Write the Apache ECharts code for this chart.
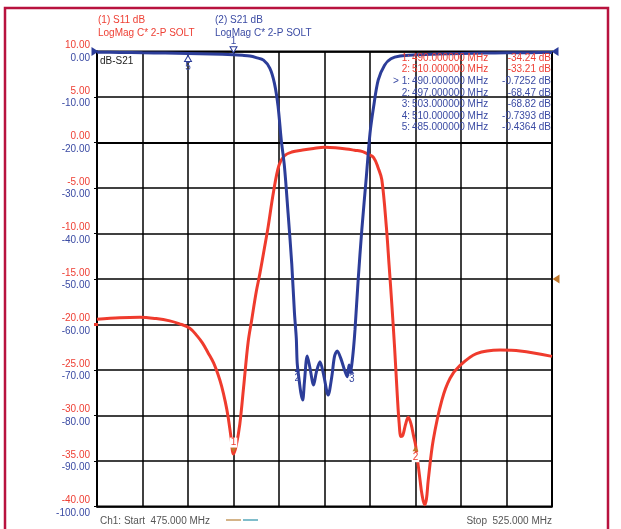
<!DOCTYPE html>
<html><head><meta charset="utf-8">
<script src="https://cdn.jsdelivr.net/npm/echarts@6/dist/echarts.min.js"></script>
<style>html,body{margin:0;padding:0;background:#fff}#c{width:621px;height:529px}</style>
</head><body><div id="c"></div>
<script>
// ---- data ----
const freqS11 = [475, 477.5, 479.7, 481.5, 483, 484, 485.2, 486, 486.6, 487.2, 487.8, 488.3, 488.7, 489.1, 489.4, 489.7, 490, 490.3, 490.7, 491.1, 491.6, 492, 492.5, 492.9, 493.4, 493.8, 494.4, 495, 495.6, 496.4, 497.6, 498.8, 500, 501.2, 502.4, 503.3, 504.2, 504.8, 505.4, 505.9, 506.3, 506.8, 507.1, 507.4, 507.7, 508, 508.2, 508.4, 508.6, 508.9, 509.2, 509.5, 509.8, 510, 510.5, 510.7, 511, 511.2, 511.4, 511.95, 512.9, 513.8, 514.9, 516.7, 519.3, 521.5, 525];
const s11 = [-19.43, -19.25, -19.2, -19.35, -19.6, -19.9, -20.4, -21.25, -22.05, -23.1, -24.2, -25.5, -26.8, -28.5, -30.1, -32.2, -34.24, -33.3, -30.9, -27.0, -22.0, -19.5, -16.4, -14.4, -11.6, -9.3, -5.4, -2.5, -1.45, -1.05, -0.82, -0.65, -0.53, -0.58, -0.71, -0.85, -1.0, -1.3, -1.65, -2.8, -4.1, -9.3, -13.5, -17.8, -22.5, -27.8, -30.8, -32.3, -32.2, -31.0, -30.2, -30.9, -32.3, -33.21, -37.1, -38.6, -39.8, -39.2, -37.1, -32.7, -28.3, -25.9, -24.5, -23.2, -22.8, -22.9, -23.5];

const freqS21 = [475, 477.5, 480, 482.5, 485, 487.5, 490, 491, 491.8, 492.5, 493.3, 494, 494.5, 494.9, 495.25, 495.6, 496, 496.4, 496.7, 496.9, 497, 497.2, 497.4, 497.6, 497.8, 498.1, 498.4, 498.8, 499.1, 499.5, 499.9, 500.4, 500.8, 501.1, 501.4, 501.8, 502.2, 502.5, 502.7, 502.85, 503, 503.2, 503.35, 503.7, 504.1, 504.6, 505, 505.4, 505.9, 506.6, 507.3, 508.3, 510, 512.5, 515, 517.5, 520, 522.5, 525];
const s21 = [-0.15, -0.2, -0.28, -0.35, -0.4364, -0.55, -0.7252, -0.85, -1.0, -1.35, -1.9, -3.7, -7.0, -12.1, -19.5, -25.3, -35.6, -46.6, -57.5, -63, -68.47, -72, -75, -76.6, -72.5, -66.9, -69.5, -73.3, -70.5, -68.2, -71, -75.5, -71.5, -67, -65.8, -67.5, -70, -71.5, -68.9, -70.5, -68.82, -65, -61.2, -50.2, -39.2, -27.5, -18.0, -12.1, -6.3, -3.0, -1.6, -1.0, -0.7393, -0.55, -0.45, -0.35, -0.3, -0.25, -0.2];

const s11Ticks = ['10.00','5.00','0.00','-5.00','-10.00','-15.00','-20.00','-25.00','-30.00','-35.00','-40.00'];
const s21Ticks = ['0.00','-10.00','-20.00','-30.00','-40.00','-50.00','-60.00','-70.00','-80.00','-90.00','-100.00'];

const markerTrace = ['S11','S11','S21','S21','S21','S21','S21'];
const markerIds = ['1:','2:','> 1:','2:','3:','4:','5:'];
const markerFreqs = ['490.000000 MHz','510.000000 MHz','490.000000 MHz','497.000000 MHz','503.000000 MHz','510.000000 MHz','485.000000 MHz'];
const markerVals = ['-34.24 dB','-33.21 dB','-0.7252 dB','-68.47 dB','-68.82 dB','-0.7393 dB','-0.4364 dB'];

const s11Markers = [[490, -34.24, '1'], [510, -33.21, '2']];
const s21Markers = [[490, -0.7252, '1'], [497, -68.47, '2'], [503, -68.82, '3'], [485, -0.4364, '5']];

const trace1Title = ['(1) S11 dB', 'LogMag C* 2-P SOLT'];
const trace2Title = ['(2) S21 dB', 'LogMag C* 2-P SOLT'];
const startLabel = 'Ch1: Start  475.000 MHz';
const stopLabel = 'Stop  525.000 MHz';

// ---- styles ----
const RED = '#ef3b2d', BLUE = '#2c3d99', RTXT = '#ee4035', BTXT = '#3a4aa3', BROWN = '#c0782c';
const FONT = '"Liberation Sans", Arial, sans-serif';

const chart = echarts.init(document.getElementById('c'), null, {renderer: 'canvas'});

const graphics = [];
graphics.push({type:'rect', shape:{x:5, y:8, width:603, height:540}, style:{fill:'none', stroke:'#b8123e', lineWidth:2.5}, silent:true});
trace1Title.forEach((t,i)=>graphics.push({type:'text', x:98, y:20+i*13, style:{text:t, fill:RTXT, font:'10px '+FONT, textVerticalAlign:'middle'}}));
trace2Title.forEach((t,i)=>graphics.push({type:'text', x:215, y:20+i*13, style:{text:t, fill:BTXT, font:'10px '+FONT, textVerticalAlign:'middle'}}));
graphics.push({type:'text', x:100, y:61, style:{text:'dB-S21', fill:'#222', font:'10px '+FONT, textVerticalAlign:'middle'}});
markerIds.forEach((id,i)=>{
  const col = markerTrace[i]==='S11' ? RTXT : BTXT;
  const y = 58 + i*11.6;
  graphics.push({type:'text', x:410, y:y, z:10, style:{text:id, fill:col, font:'10px '+FONT, textAlign:'right', textVerticalAlign:'middle'}});
  graphics.push({type:'text', x:412, y:y, z:10, style:{text:markerFreqs[i], fill:col, font:'10px '+FONT, textVerticalAlign:'middle'}});
  graphics.push({type:'text', x:551, y:y, z:10, style:{text:markerVals[i], fill:col, font:'10px '+FONT, textAlign:'right', textVerticalAlign:'middle'}});
});
graphics.push({type:'text', x:100, y:521, style:{text:startLabel, fill:'#555', font:'10px '+FONT, textVerticalAlign:'middle'}});
graphics.push({type:'text', x:552, y:521, style:{text:stopLabel, fill:'#555', font:'10px '+FONT, textAlign:'right', textVerticalAlign:'middle'}});
graphics.push({type:'line', shape:{x1:226, y1:520, x2:241, y2:520}, style:{stroke:'#b8823a', lineWidth:1.2}});
graphics.push({type:'line', shape:{x1:243, y1:520, x2:258, y2:520}, style:{stroke:'#2a90a8', lineWidth:1.2}});

function refTri(coord, color, rot, off){
  return {coord:coord, symbol:'triangle', symbolSize:[9,7], symbolRotate:rot, symbolOffset:off, itemStyle:{color:color}, label:{show:false}};
}

const option = {
  animation:false,
  backgroundColor:'#fff',
  textStyle:{fontFamily:FONT},
  grid:{left:97, top:51.5, width:455, height:455, show:true, borderColor:'#000', borderWidth:2, backgroundColor:'transparent'},
  xAxis:{type:'value', min:475, max:525, interval:5,
    axisLabel:{show:false}, axisTick:{show:false},
    axisLine:{show:true, lineStyle:{color:'#000', width:2}},
    splitLine:{show:true, lineStyle:{color:'#000', width:1.5}}},
  yAxis:[
    {type:'value', min:-40, max:10, interval:5, position:'left',
      axisLine:{show:true, lineStyle:{color:'#000', width:2}},
      axisTick:{show:true, length:3, lineStyle:{color:'#000'}},
      splitLine:{show:true, lineStyle:{color:'#000', width:1.5}},
      axisLabel:{margin:7, fontSize:10, fontFamily:FONT,
        formatter:function(v){const i=Math.round((10-v)/5); return '{r|'+s11Ticks[i]+'}\n{b|'+s21Ticks[i]+'}';},
        rich:{r:{color:RTXT, fontSize:10, lineHeight:12.5, fontFamily:FONT}, b:{color:BTXT, fontSize:10, lineHeight:12.5, fontFamily:FONT}}}},
    {type:'value', min:-100, max:0, interval:10, show:false, splitLine:{show:false}}
  ],
  series:[
    {name:'S11', type:'line', yAxisIndex:0, data:freqS11.map((f,i)=>[f, s11[i]]),
      showSymbol:false, smooth:0.35, lineStyle:{color:RED, width:3}, itemStyle:{color:RED}, z:3,
      markPoint:{silent:true, animation:false, data:[
        refTri([525,-15], BROWN, 90, [4,0]),
        {coord:[475,-20], symbol:'rect', symbolSize:[4,3], symbolOffset:[-1,0], itemStyle:{color:RED}, label:{show:false}},
        {coord:[s11Markers[0][0], s11Markers[0][1]], symbol:'triangle', symbolRotate:180, symbolSize:[6,5], symbolOffset:[0,-4], itemStyle:{color:BROWN},
          label:{show:true, formatter:s11Markers[0][2], position:'top', distance:0, color:RED, fontSize:10, backgroundColor:'#fff', padding:[0,1]}},
        {coord:[s11Markers[1][0], s11Markers[1][1]], symbol:'triangle', symbolSize:[6,5], symbolOffset:[0,4], itemStyle:{color:BROWN},
          label:{show:true, formatter:s11Markers[1][2], position:'bottom', distance:1, color:RED, fontSize:10, backgroundColor:'#fff', padding:[0,1]}}
      ]}},
    {name:'S21', type:'line', yAxisIndex:1, data:freqS21.map((f,i)=>[f, s21[i]]),
      showSymbol:false, smooth:0.3, lineStyle:{color:BLUE, width:3}, itemStyle:{color:BLUE}, z:4,
      markPoint:{silent:true, animation:false, data:[
        refTri([475,0], BLUE, -90, [-2,0]),
        refTri([525,0], BLUE, 90, [3,0]),
        {coord:[s21Markers[0][0], s21Markers[0][1]], symbol:'triangle', symbolRotate:180, symbolSize:[7,6], symbolOffset:[0,-5], itemStyle:{color:'#fff', borderColor:BLUE, borderWidth:1},
          label:{show:true, formatter:s21Markers[0][2], position:'top', distance:0, color:BTXT, fontSize:10}},
        {coord:[s21Markers[1][0], s21Markers[1][1]], symbol:'triangle', symbolSize:[5,4], symbolOffset:[0,7], itemStyle:{color:BLUE},
          label:{show:true, formatter:s21Markers[1][2], position:'bottom', distance:1, color:BTXT, fontSize:10}},
        {coord:[s21Markers[2][0], s21Markers[2][1]], symbol:'triangle', symbolSize:[5,4], symbolOffset:[0,7], itemStyle:{color:BLUE},
          label:{show:true, formatter:s21Markers[2][2], position:'bottom', distance:1, color:BTXT, fontSize:10}},
        {coord:[s21Markers[3][0], s21Markers[3][1]], symbol:'triangle', symbolSize:[7,6], symbolOffset:[0,5], itemStyle:{color:'#fff', borderColor:BLUE, borderWidth:1},
          label:{show:true, formatter:s21Markers[3][2], position:'bottom', distance:0, color:BTXT, fontSize:10}}
      ]}}
  ],
  graphic:graphics
};
chart.setOption(option);
</script></body></html>
